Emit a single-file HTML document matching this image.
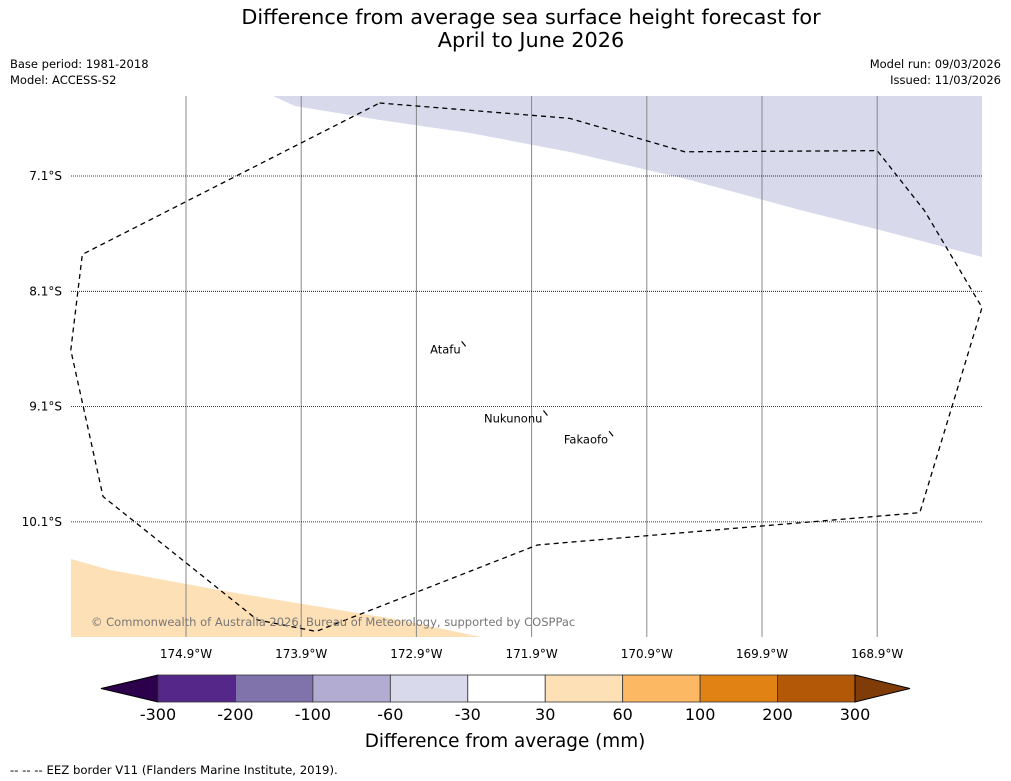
<!DOCTYPE html>
<html><head><meta charset="utf-8"><style>
body{margin:0;background:#fff;width:1011px;height:781px;overflow:hidden;font-family:"DejaVu Sans","Liberation Sans",sans-serif}
svg{display:block}
</style></head><body>
<svg id="c" width="1011" height="781" xmlns="http://www.w3.org/2000/svg" font-family="DejaVu Sans, Liberation Sans, sans-serif">
<text x="531" y="24" font-size="20.8" text-anchor="middle">Difference from average sea surface height forecast for</text>
<text x="531" y="47" font-size="20.8" text-anchor="middle">April to June 2026</text>
<text x="10" y="68" font-size="11.5">Base period: 1981-2018</text>
<text x="10" y="84" font-size="11.5">Model: ACCESS-S2</text>
<text x="1001" y="68" font-size="11.5" text-anchor="end">Model run: 09/03/2026</text>
<text x="1001" y="84" font-size="11.5" text-anchor="end">Issued: 11/03/2026</text>
<g id="map"></g>
<g id="cbar"></g>
<text x="505" y="747" font-size="18.4" text-anchor="middle">Difference from average (mm)</text>
<text x="10" y="774" font-size="11.7">--  --  -- EEZ border V11 (Flanders Marine Institute, 2019).</text>
</svg>
<script>
const lonTicks=[-174.9,-173.9,-172.9,-171.9,-170.9,-169.9,-168.9];
const latTicks=[-7.1,-8.1,-9.1,-10.1];
const eezLon=[-173.22,-171.57,-170.57,-168.90,-168.49,-167.99,-168.53,-171.85,-173.77,-174.28,-175.62,-175.90,-175.80,-173.22];
const eezLat=[-6.467,-6.60,-6.89,-6.88,-7.40,-8.24,-10.02,-10.30,-11.05,-10.95,-9.88,-8.61,-7.78,-6.467];
const islandNames=["Atafu","Nukunonu","Fakaofo"];
const islandLon=[-172.49,-171.78,-171.21];
const islandLat=[-8.56,-9.16,-9.34];
const levels=[-300,-200,-100,-60,-30,30,60,100,200,300];
const colors=["#2d004b","#542788","#8073ac","#b2abd2","#d8daeb","#ffffff","#fee0b6","#fdb863","#e08214","#b35806","#7f3b08"];
const NS="http://www.w3.org/2000/svg";
const X=lon=>186+(lon+174.9)*115.2;
const Y=lat=>176+(-7.1-lat)*115.3;
function mk(t,a,p){const e=document.createElementNS(NS,t);for(const k in a)e.setAttribute(k,a[k]);p.appendChild(e);return e;}
const map=document.getElementById('map');
const L=71,R=982,T=96,B=637;
let e=mk('polygon',{points:"273,96 295,106 380,120 470,133 570,152 690,180 800,210 880,230 982,257 982,96",fill:colors[4]},map);

e=mk('polygon',{points:"71,559 110,570 230,592 400,620 481,637 71,637",fill:colors[6]},map);

lonTicks.forEach(v=>{const x=X(v);
 let l=mk('line',{x1:x,x2:x,y1:T,y2:B,stroke:'#888','stroke-width':1},map);
 
 let t=mk('text',{x:x,y:658,'font-size':12,'text-anchor':'middle'},map);t.textContent=Math.abs(v).toFixed(1)+'°W';
 });
latTicks.forEach(v=>{const y=Y(v);
 let l=mk('line',{x1:L,x2:R,y1:y,y2:y,stroke:'#000','stroke-width':0.8,'stroke-dasharray':'1,1'},map);
 
 let t=mk('text',{x:62,y:y+4,'font-size':12,'text-anchor':'end'},map);t.textContent=Math.abs(v).toFixed(1)+'°S';
 });
let pts=eezLon.map((v,i)=>X(v)+','+Y(eezLat[i])).join(' ');
e=mk('polyline',{points:pts,fill:'none',stroke:'#000','stroke-width':1.3,'stroke-dasharray':'5,4'},map);

islandNames.forEach((n,i)=>{const x=X(islandLon[i]),y=Y(islandLat[i]);
 let s=mk('line',{x1:x-2,y1:y-3,x2:x+2,y2:y+2,stroke:'#000','stroke-width':1.2},map);
 
 let t=mk('text',{x:x-3,y:y+9,'font-size':11.5,'text-anchor':'end'},map);t.textContent=n;
 });
e=mk('text',{x:91,y:626,'font-size':11.5,fill:'#777'},map);e.textContent='© Commonwealth of Australia 2026, Bureau of Meteorology, supported by COSPPac';

const cb=document.getElementById('cbar');
const c0=158,cw=(855-158)/(levels.length-1),cy=675,ch=27;
let tl=mk('polygon',{points:`101,${cy+ch/2} ${c0},${cy} ${c0},${cy+ch}`,fill:colors[0],stroke:'#000'},cb);

for(let i=0;i<levels.length-1;i++){
 let r=mk('rect',{x:c0+i*cw,y:cy,width:cw,height:ch,fill:colors[i+1],stroke:'#333','stroke-width':0.8},cb);
 }
let tr=mk('polygon',{points:`855,${cy} 910,${cy+ch/2} 855,${cy+ch}`,fill:colors[10],stroke:'#000'},cb);

levels.forEach((v,i)=>{let t=mk('text',{x:c0+i*cw,y:720,'font-size':16,'text-anchor':'middle'},cb);t.textContent=v;
 });
</script>
</body></html>
